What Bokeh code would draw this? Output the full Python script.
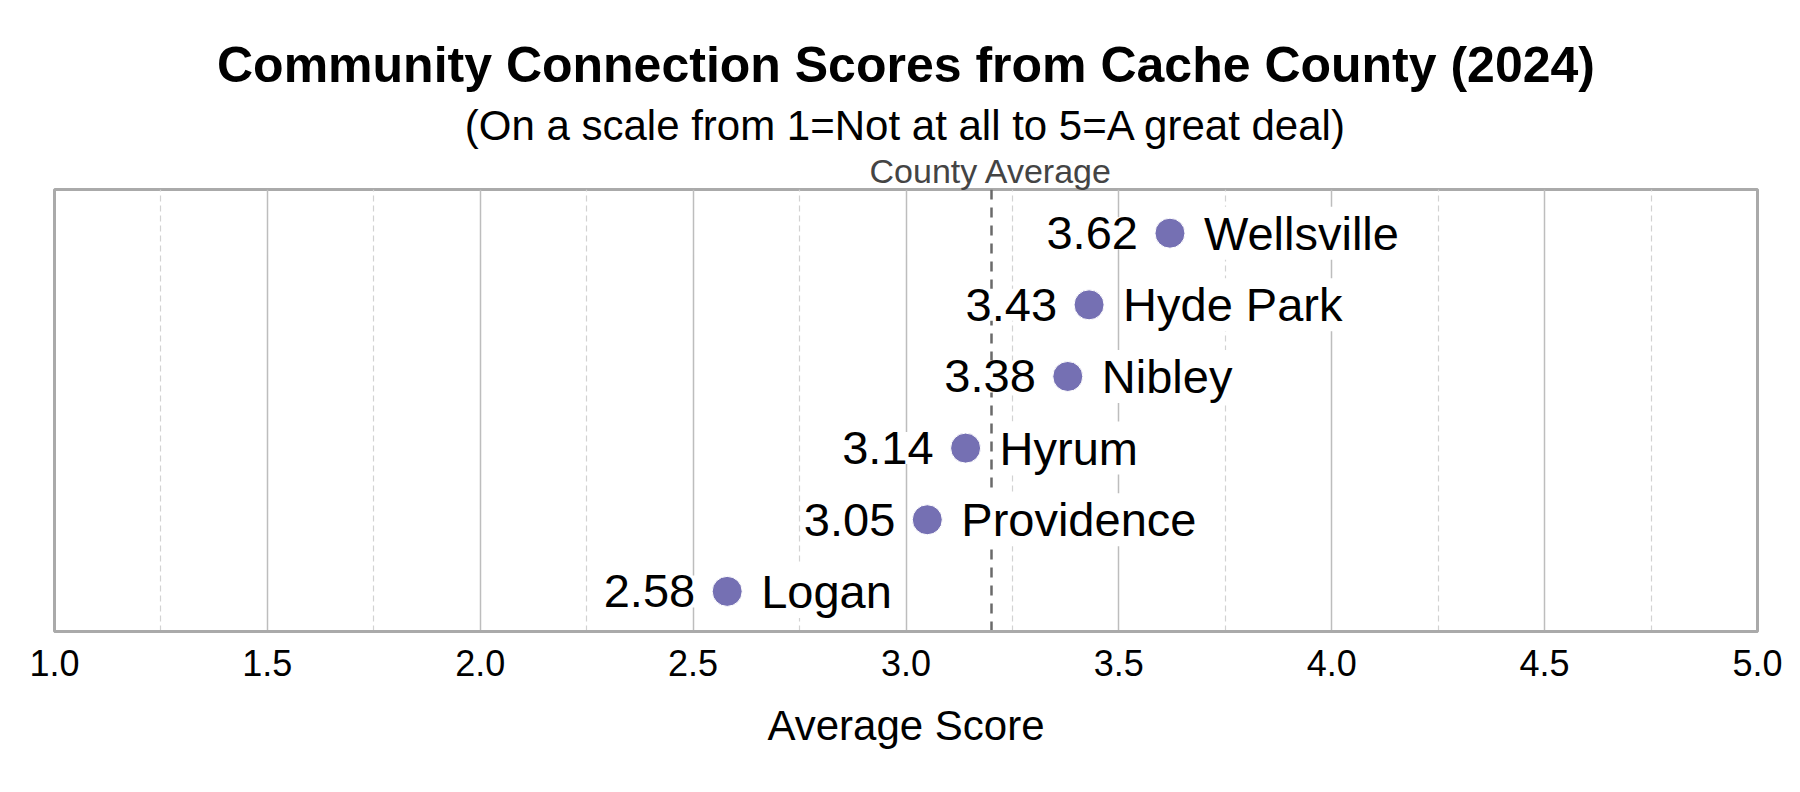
from bokeh.plotting import figure
from bokeh.models import (Range1d, FixedTicker, Title, ColumnDataSource, NumeralTickFormatter,
                          LabelSet, LinearAxis)
from bokeh.core.properties import value
from bokeh.embed import file_html
from bokeh.resources import INLINE

# ---- data ----
towns = ["Logan", "Providence", "Hyrum", "Nibley", "Hyde Park", "Wellsville"]
scores = [2.58, 3.05, 3.14, 3.38, 3.43, 3.62]
county_average = 3.2
x_ticks = [1.0, 1.5, 2.0, 2.5, 3.0, 3.5, 4.0, 4.5, 5.0]
x_minor_ticks = [1.25, 1.75, 2.25, 2.75, 3.25, 3.75, 4.25, 4.75]
title_text = "Community Connection Scores from Cache County (2024)"
subtitle_text = "(On a scale from 1=Not at all to 5=A great deal)"
x_label = "Average Score"
avg_label = "County Average"

FONT = "Liberation Sans"
DOT = "#7570B3"

src = ColumnDataSource(dict(
    x=scores,
    y=list(range(len(towns))),
    town=towns,
    val=[f"{s:.2f}" for s in scores],
))

p = figure(
    width=1784, height=784,
    x_range=Range1d(x_ticks[0], x_ticks[-1]),
    y_range=Range1d(-0.56, len(towns) - 1 + 0.61),
    output_backend="svg", toolbar_location=None,
    min_border_left=54, min_border_right=27,
    min_border_top=189, min_border_bottom=153,
)
p.title.visible = False

tick = FixedTicker(ticks=x_ticks, minor_ticks=x_minor_ticks)

# bottom axis
ax = p.below[0]
ax.ticker = tick
ax.formatter = NumeralTickFormatter(format="0.0")
ax.major_tick_line_color = None
ax.minor_tick_line_color = None
ax.major_tick_out = 0
ax.major_tick_in = 0
ax.minor_tick_out = 0
ax.axis_line_color = "#aaaaaa"
ax.axis_line_width = 3
ax.major_label_text_font = FONT
ax.major_label_text_font_size = "36px"
ax.major_label_text_color = "black"
ax.major_label_standoff = 18
ax.axis_label = x_label
ax.axis_label_text_font = FONT
ax.axis_label_text_font_size = "42px"
ax.axis_label_text_font_style = "normal"
ax.axis_label_text_color = "black"
ax.axis_label_standoff = 23

p.yaxis.visible = False
p.ygrid.visible = False

g = p.xgrid[0]
g.ticker = tick
g.grid_line_color = "#bdbdbd"
g.grid_line_width = 1.5
g.minor_grid_line_color = "#d2d2d2"
g.minor_grid_line_width = 1.2
g.minor_grid_line_dash = "6 4"

# county average label as a top axis with one tick
top_ax = LinearAxis(ticker=FixedTicker(ticks=[county_average]),
                    major_label_overrides={county_average: avg_label})
top_ax.axis_line_color = None
top_ax.major_tick_line_color = None
top_ax.minor_tick_line_color = None
top_ax.major_tick_out = 0
top_ax.major_tick_in = 0
top_ax.minor_tick_out = 0
top_ax.major_label_standoff = 0
top_ax.major_label_text_font = FONT
top_ax.major_label_text_font_size = "34px"
top_ax.major_label_text_color = "#444444"
p.add_layout(top_ax, "above")

sub = Title(text=subtitle_text, align="center", text_font=FONT, text_font_size="42px",
            text_font_style="normal", text_color="black", standoff=0)
p.add_layout(sub, "above")
ttl = Title(text=title_text, align="center", text_font=FONT, text_font_size="50px",
            text_font_style="bold", text_color="black", standoff=0,
            padding=dict(left=0, right=0, top=0, bottom=7))
p.add_layout(ttl, "above")

p.outline_line_color = "#aaaaaa"
p.outline_line_width = 3
p.outline_line_alpha = 1.0
p.background_fill_color = "white"
p.border_fill_color = "white"

# county average line
p.vspan(x=[county_average], line_color="#6a6a6a", line_width=2.5, line_dash="10 8")

p.scatter(x="x", y="y", source=src, size=30, fill_color=DOT, line_color="white", line_width=1)

vals = LabelSet(x="x", y="y", text="val", source=src, text_align="right", text_baseline="middle",
                x_offset=-32, text_font=value(FONT), text_font_size=value("47px"),
                text_color="black", background_fill_color="white")
names = LabelSet(x="x", y="y", text="town", source=src, text_align="left", text_baseline="middle",
                 x_offset=34, text_font=value(FONT), text_font_size=value("47px"),
                 text_color="black", background_fill_color="white")
p.add_layout(vals)
p.add_layout(names)

open("out.html", "w").write(file_html(p, INLINE))
